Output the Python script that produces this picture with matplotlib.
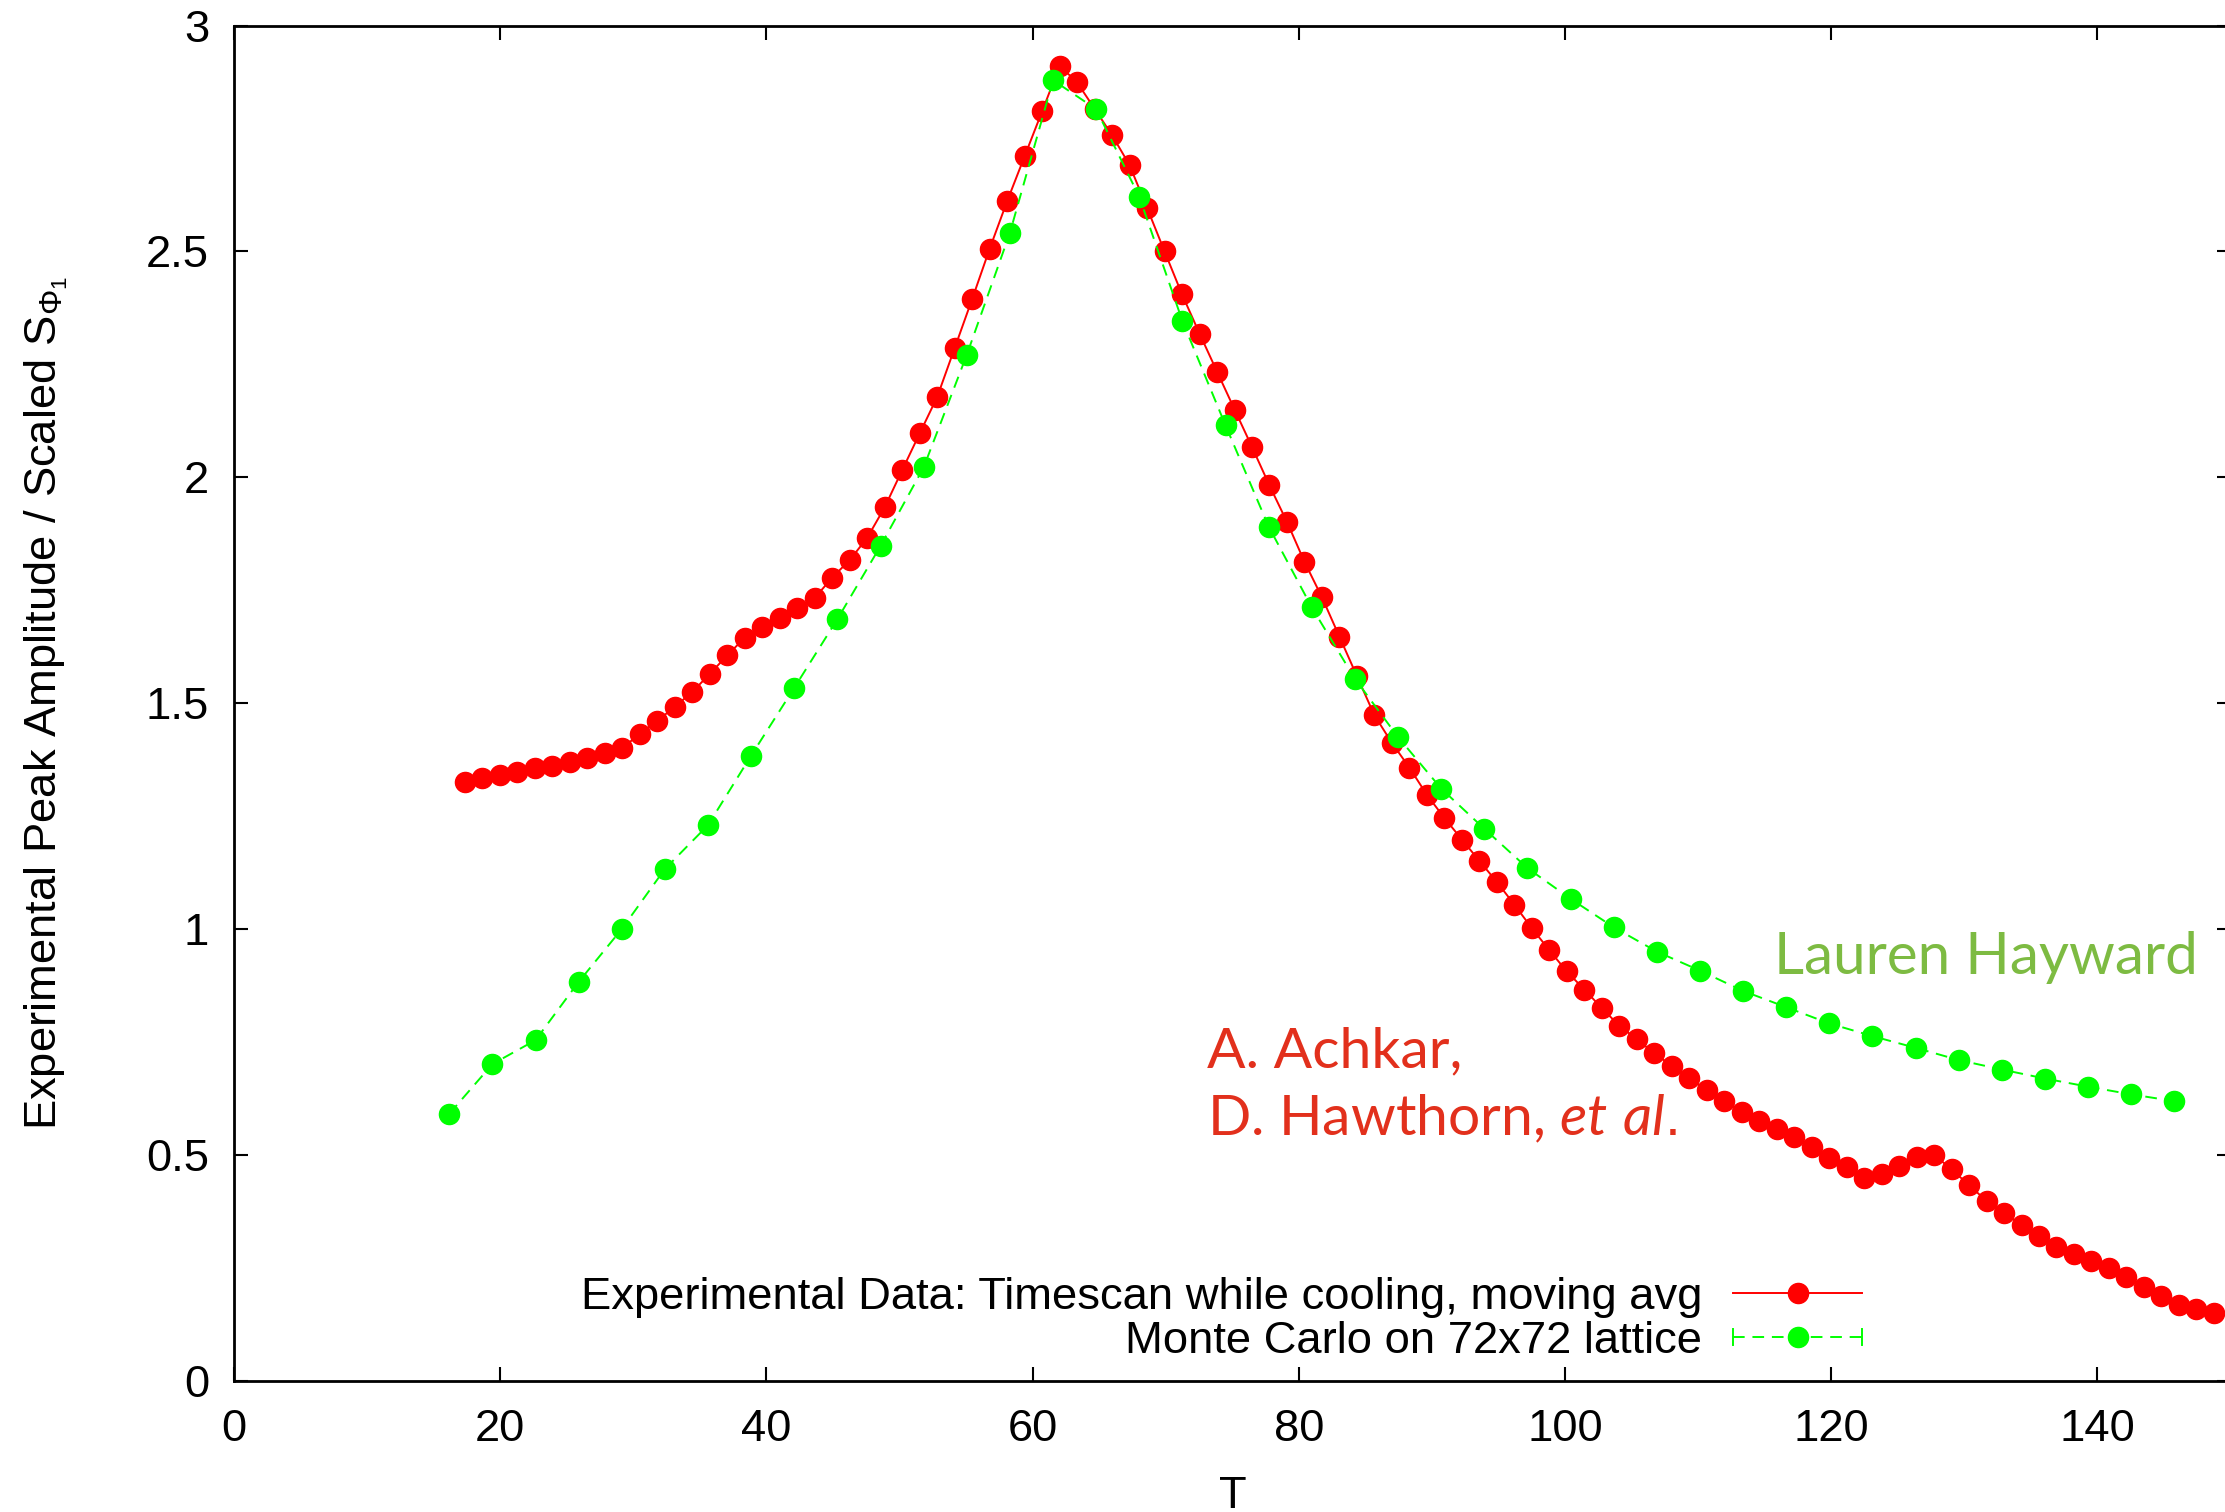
import numpy as np
import matplotlib
matplotlib.use("Agg")
import matplotlib.pyplot as plt
from matplotlib.lines import Line2D
from matplotlib.legend_handler import HandlerLine2D

plt.rcParams['font.family'] = ['Liberation Sans', 'DejaVu Sans']
plt.rcParams['mathtext.fontset'] = 'custom'
plt.rcParams['mathtext.rm'] = 'Liberation Sans'
plt.rcParams['mathtext.it'] = 'Lato:italic'

# experimental data (timescan while cooling, moving average)
exp_T = [17.35, 18.66, 19.98, 21.29, 22.61, 23.92, 25.23, 26.55, 27.86, 29.18,
         30.49, 31.80, 33.12, 34.43, 35.75, 37.06, 38.37, 39.69, 41.00, 42.32,
         43.63, 44.94, 46.26, 47.57, 48.89, 50.20, 51.51, 52.83, 54.14, 55.46,
         56.77, 58.08, 59.40, 60.71, 62.03, 63.34, 64.65, 65.97, 67.28, 68.60,
         69.91, 71.22, 72.54, 73.85, 75.17, 76.48, 77.79, 79.11, 80.42, 81.74,
         83.05, 84.36, 85.68, 86.99, 88.31, 89.62, 90.93, 92.25, 93.56, 94.88,
         96.19, 97.50, 98.82, 100.13, 101.45, 102.76, 104.07, 105.39, 106.70, 108.02,
         109.33, 110.64, 111.96, 113.27, 114.59, 115.90, 117.21, 118.53, 119.84, 121.16,
         122.47, 123.78, 125.10, 126.41, 127.73, 129.04, 130.35, 131.67, 132.98, 134.30,
         135.61, 136.92, 138.24, 139.55, 140.87, 142.18, 143.49, 144.81, 146.12, 147.44,
         148.75]
exp_amp = [1.325, 1.335, 1.342, 1.348, 1.356, 1.361, 1.370, 1.379, 1.389, 1.401,
           1.432, 1.461, 1.492, 1.525, 1.565, 1.606, 1.645, 1.668, 1.688, 1.710,
           1.733, 1.778, 1.817, 1.866, 1.934, 2.016, 2.097, 2.178, 2.286, 2.395,
           2.506, 2.611, 2.711, 2.810, 2.911, 2.874, 2.816, 2.757, 2.691, 2.596,
           2.500, 2.405, 2.318, 2.234, 2.150, 2.067, 1.982, 1.901, 1.813, 1.734,
           1.647, 1.560, 1.473, 1.412, 1.357, 1.297, 1.246, 1.198, 1.151, 1.104,
           1.054, 1.002, 0.953, 0.906, 0.866, 0.825, 0.786, 0.756, 0.725, 0.697,
           0.670, 0.643, 0.619, 0.596, 0.575, 0.557, 0.539, 0.517, 0.493, 0.474,
           0.449, 0.458, 0.475, 0.496, 0.500, 0.468, 0.433, 0.398, 0.371, 0.345,
           0.320, 0.296, 0.280, 0.265, 0.249, 0.230, 0.208, 0.188, 0.167, 0.158,
           0.151]

# monte carlo on 72x72 lattice
mc_T = [16.17, 19.41, 22.65, 25.89, 29.13, 32.37, 35.61, 38.85, 42.09, 45.33,
        48.57, 51.81, 55.05, 58.29, 61.53, 64.77, 68.01, 71.25, 74.49, 77.73,
        80.97, 84.21, 87.45, 90.69, 93.93, 97.17, 100.41, 103.65, 106.89, 110.13,
        113.37, 116.61, 119.85, 123.09, 126.33, 129.57, 132.81, 136.05, 139.29, 142.53,
        145.77]
mc_S = [0.591, 0.701, 0.754, 0.883, 1.000, 1.133, 1.230, 1.384, 1.534, 1.686,
        1.848, 2.022, 2.271, 2.541, 2.879, 2.815, 2.621, 2.346, 2.115, 1.891,
        1.712, 1.554, 1.425, 1.311, 1.222, 1.135, 1.067, 1.004, 0.950, 0.908,
        0.863, 0.827, 0.791, 0.763, 0.737, 0.710, 0.689, 0.669, 0.651, 0.634,
        0.619]

xticks = [0, 20, 40, 60, 80, 100, 120, 140]
yticks = [0, 0.5, 1, 1.5, 2, 2.5, 3]
ytick_labels = ['0', '0.5', '1', '1.5', '2', '2.5', '3']

fs = 32.7


# legend handle with the little end caps gnuplot draws for error-line styles
class CapHandler(HandlerLine2D):
    def create_artists(self, legend, orig_handle, xdescent, ydescent,
                       width, height, fontsize, trans):
        arts = super().create_artists(legend, orig_handle, xdescent, ydescent,
                                      width, height, fontsize, trans)
        y0 = height / 2 - ydescent
        h = 0.18 * fontsize
        for x in (-xdescent, width - xdescent):
            cap = Line2D([x, x], [y0 - h, y0 + h], color=orig_handle.get_color(),
                         lw=orig_handle.get_linewidth(), transform=trans)
            arts.append(cap)
        return arts


fig = plt.figure(figsize=(22.25, 15.12), dpi=100)
ax = fig.add_axes([0.1052, 0.0868, 0.8973, 0.8963])

ax.plot(exp_T, exp_amp, '-', color='#ff0000', lw=1.4, marker='o', ms=14.5,
        mec='#ff0000', mfc='#ff0000',
        label='Experimental Data: Timescan while cooling, moving avg')
mc_line, = ax.plot(mc_T, mc_S, '--', color='#00ff00', lw=1.4, dashes=(6, 4),
                   marker='o', ms=14.5, mec='#00ff00', mfc='#00ff00',
                   label='Monte Carlo on 72x72 lattice')

ax.set_xlim(0, 150)
ax.set_ylim(0, 3)
ax.set_xticks(xticks)
ax.set_yticks(yticks)
ax.set_yticklabels(ytick_labels)
ax.tick_params(direction='in', length=10, width=1.5, labelsize=fs,
               top=True, right=True, pad=20)
ax.tick_params(axis='y', pad=18)
for s in ax.spines.values():
    s.set_linewidth(2)

ax.set_xlabel('T', fontsize=fs)
ax.xaxis.set_label_coords(0.5, -0.07)
ax.set_ylabel(r'Experimental Peak Amplitude / Scaled S$_{\Phi_1}$', fontsize=fs)
ax.yaxis.set_label_coords(-0.082, 0.5)

leg = ax.legend(loc='center right', bbox_to_anchor=(0.8154, 0.0453),
                frameon=False, markerfirst=False, fontsize=fs,
                handlelength=2.83, handletextpad=0.69, labelspacing=0.08,
                borderpad=0, borderaxespad=0,
                handler_map={mc_line: CapHandler()})

# author notes
ax.text(115.7, 0.90, 'Lauren Hayward', fontsize=42, color='#7dbb42',
        family='Lato', ha='left', va='baseline')
ax.text(73.1, 0.694, 'A. Achkar,', fontsize=41, color='#e2301c',
        family='Lato', ha='left', va='baseline')
ax.text(73.1, 0.543, r'D. Hawthorn, $\mathit{et\ al.}$', fontsize=41,
        color='#e2301c', family='Lato', ha='left', va='baseline')

fig.savefig('out.png', dpi=100)
